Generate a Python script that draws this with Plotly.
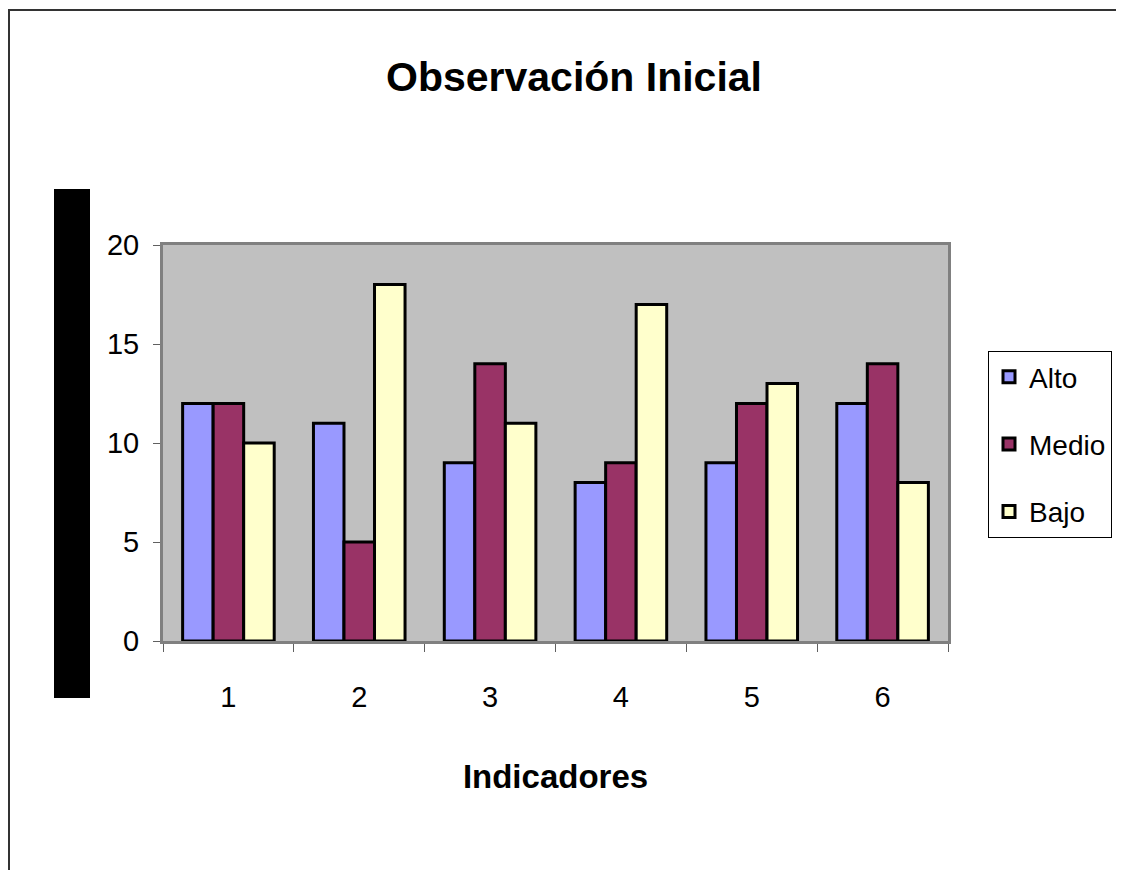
import plotly.graph_objects as go

categories = ["1", "2", "3", "4", "5", "6"]
alto = [12, 11, 9, 8, 9, 12]
medio = [12, 5, 14, 9, 12, 14]
bajo = [10, 18, 11, 17, 13, 8]
series_names = ["Alto", "Medio", "Bajo"]
series_colors = ["#9999FF", "#993366", "#FFFFCC"]
y_ticks = [0, 5, 10, 15, 20]

FONT = "Liberation Sans Narrow, Arial Narrow, Liberation Sans, Arial, sans-serif"

# the page body has an 8px margin: the figure is sized to fit inside the window
W, H, OFF = 1116, 862, 8

fig = go.Figure()
for i, (name, vals, col) in enumerate(zip(series_names, [alto, medio, bajo], series_colors)):
    fig.add_trace(go.Bar(
        x=categories, y=vals, name=name,
        marker=dict(color=col, line=dict(color="black", width=3)),
        legendgroup=name,
    ))

pw, ph, px0, py0 = 785, 396, 163, 641  # plot area in page pixels
ml = px0 - OFF
mt = (py0 - ph) - OFF

fig.update_layout(
    width=W, height=H,
    margin=dict(l=ml, r=W - ml - pw, t=mt, b=H - mt - ph),
    paper_bgcolor="white",
    plot_bgcolor="#C0C0C0",
    barmode="group",
    bargap=0.3,
    bargroupgap=0,
    font=dict(family=FONT, color="black", size=29),
    title=dict(
        text="<b>Observación Inicial</b>",
        x=(574 - px0) / pw, xref="paper", xanchor="center",
        y=1 - (77 - OFF) / H, yref="container", yanchor="middle",
        font=dict(family=FONT, size=41, color="black"),
    ),
    showlegend=True,
    legend=dict(
        x=(988 - OFF) / W, xref="container", xanchor="left",
        y=1 - (351 - OFF) / H, yref="container", yanchor="top",
        bordercolor="black", borderwidth=1,
        bgcolor="white",
        font=dict(family=FONT, size=28, color="black"),
        traceorder="grouped",
        tracegroupgap=28,
        itemwidth=30,
    ),
    xaxis=dict(
        type="category",
        showgrid=False,
        showline=True, linecolor="#808080", linewidth=3,
        ticks="outside", tickson="boundaries", ticklen=8, tickcolor="#606060", tickwidth=1,
        ticklabelstandoff=28,
        tickfont=dict(family=FONT, size=29),
        title=dict(text="<b>Indicadores</b>", font=dict(family=FONT, size=33), standoff=54),
        mirror=True,
    ),
    yaxis=dict(
        range=[0, 20],
        tickvals=y_ticks,
        showgrid=False,
        showline=True, linecolor="#808080", linewidth=3,
        ticks="outside", ticklen=7, tickcolor="#606060", tickwidth=1,
        ticklabelstandoff=8,
        tickfont=dict(family=FONT, size=29),
        zeroline=False,
        mirror=True,
    ),
)


def xp(px):
    return (px - px0) / pw


def yp(py):
    return (py0 - py) / ph


# black block at left (y-axis title area)
fig.add_shape(type="rect", xref="paper", yref="paper",
              x0=xp(54), x1=xp(90), y0=yp(698), y1=yp(189),
              fillcolor="black", line=dict(width=0))
# outer chart border (left and top edges)
fig.add_shape(type="path", xref="paper", yref="paper",
              path=f"M {xp(9)},{yp(880)} L {xp(9)},{yp(10)} L {xp(1135)},{yp(10)}",
              line=dict(color="#333333", width=2))

fig.write_html("out.html")
